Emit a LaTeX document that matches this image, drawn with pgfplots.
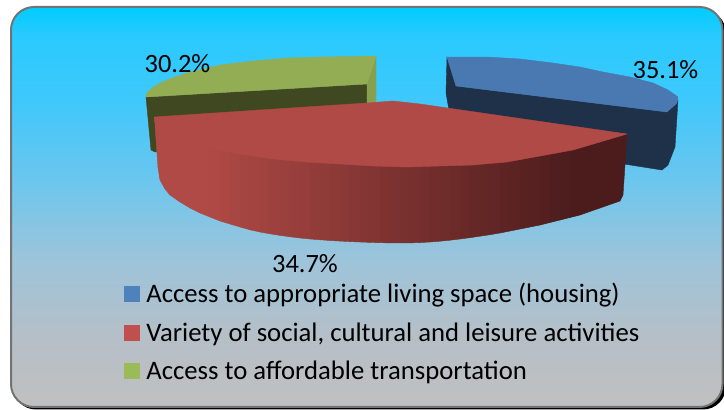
\documentclass[border=0pt]{standalone}
\usepackage{fontspec}
\setmainfont{Carlito}
\usepackage{pgfplots}
\pgfplotsset{compat=1.18}
\definecolor{bgA}{HTML}{C0C0C0}
\definecolor{bgB}{HTML}{B6BFC7}
\definecolor{bgC}{HTML}{9DC4DA}
\definecolor{bgD}{HTML}{6BC6EE}
\definecolor{bgE}{HTML}{3FC8FB}
\definecolor{bgF}{HTML}{29CAFF}
\definecolor{bgG}{HTML}{00CCFF}
\definecolor{blueTop}{HTML}{4A78B0}
\definecolor{blueWall}{HTML}{1E3149}
\definecolor{redTop}{HTML}{B04A46}
\definecolor{redDark}{HTML}{4C1C1C}
\definecolor{greenTop}{HTML}{93AD55}
\definecolor{greenWall}{HTML}{404821}
\definecolor{greenSide}{HTML}{87A04E}
\definecolor{swBlue}{HTML}{4F81BD}
\definecolor{swRed}{HTML}{C0504D}
\definecolor{swGreen}{HTML}{9BBB59}
\pgfdeclareverticalshading{panel}{100bp}{
  color(0bp)=(bgA); color(25bp)=(bgA); color(33.4bp)=(bgB); color(43.4bp)=(bgC);
  color(53.4bp)=(bgD); color(63.4bp)=(bgE); color(71.5bp)=(bgF); color(75bp)=(bgG); color(100bp)=(bgG)}
\newcommand{\strip}[7]{\addplot[forget plot,fill=redTop!#1!redDark,draw=redTop!#1!redDark,line width=0.4pt] coordinates {(#2,#3) (#5,#6) (#5,#7) (#2,#4)} -- cycle;}
\begin{document}
\begin{tikzpicture}
\path[use as bounding box] (0,0) rectangle (724pt,410pt);
\begin{scope}
\clip (0,0) rectangle (724pt,410pt);
\fill[black,rounded corners=23pt] (13pt,0.5pt) rectangle (726pt,400pt);
\path[shading=panel,draw=gray!90!black,line width=2pt,rounded corners=23pt] (11pt,3pt) rectangle (722.5pt,403pt);
\end{scope}
\begin{axis}[
  at={(0,0)},anchor=south west,
  scale only axis,width=724pt,height=410pt,
  xmin=0,xmax=724,ymin=0,ymax=410,y dir=reverse,
  hide axis,clip=false,
  legend style={at={(axis cs:124,283)},anchor=north west,draw=none,fill=none,inner sep=0pt,outer sep=0pt,
    font=\fontsize{26.7}{31}\selectfont,
    row sep=18.5pt,nodes={inner sep=0pt,outer sep=0pt}},
  legend cell align=left,
  legend image code/.code={\fill[#1] (0pt,-7.5pt) rectangle (15pt,7.5pt);\path (22pt,0pt);},
]
% blue slice
\addplot[forget plot,fill=blueWall,draw=blueWall] coordinates {(447,57) (446,93) (449,110) (627,134) (624,164) (662,170) (668,165) (675,147) (678,100) (667,112) (456,86)} -- cycle;
\addplot[forget plot,fill=blueTop,draw=blueTop] coordinates {(447,57) (487,57) (520,59) (553,63) (580,67) (603,72) (630,77) (653,83) (668,90) (678,97) (677,103) (667,112) (456,86)} -- cycle;
% green slice
\addplot[forget plot,fill=greenWall,draw=greenWall] coordinates {(146,97) (367,84) (367,110) (155,152) (151,150)} -- cycle;
\addplot[forget plot,fill=greenSide,draw=greenSide] coordinates {(376,56) (367,84) (367,104) (376,102)} -- cycle;
\addplot[forget plot,fill=greenTop,draw=greenTop] coordinates {(146,97) (146,94) (152,88) (160,83) (172,78) (187,73) (220,65) (253,61) (287,58) (320,57) (376,56) (367,84)} -- cycle;
% red slice wall, strip by strip (upper edge hidden beneath the top face)
\addplot[forget plot,fill=redTop,draw=redTop] coordinates {(155,125) (160,125) (160,180) (158,168)} -- cycle;
\strip{100}{160}{128}{180}{165}{128}{189}
\strip{100}{165}{130}{189}{170}{130}{195}
\strip{100}{170}{132}{195}{180}{136}{202}
\strip{100}{180}{136}{202}{190}{139}{208}
\strip{100}{190}{139}{208}{200}{142}{213}
\strip{100}{200}{142}{213}{210}{144}{217}
\strip{98}{210}{144}{217}{220}{146}{221}
\strip{95}{220}{146}{221}{230}{148}{224}
\strip{92}{230}{148}{224}{240}{149}{227}
\strip{89}{240}{149}{227}{250}{151}{229.8}
\strip{87}{250}{151}{229.8}{260}{152}{232}
\strip{84}{260}{152}{232}{270}{154}{233.8}
\strip{81}{270}{154}{233.8}{280}{155}{235.4}
\strip{78}{280}{155}{235.4}{290}{156}{236.8}
\strip{76}{290}{156}{236.8}{300}{157}{238}
\strip{73}{300}{157}{238}{310}{157}{239}
\strip{70}{310}{157}{239}{320}{158}{239.8}
\strip{67}{320}{158}{239.8}{330}{158}{240.5}
\strip{65}{330}{158}{240.5}{340}{159}{241.1}
\strip{62}{340}{159}{241.1}{350}{159}{241.6}
\strip{59}{350}{159}{241.6}{360}{160}{242}
\strip{56}{360}{160}{242}{370}{160}{242.4}
\strip{54}{370}{160}{242.4}{380}{161}{242.7}
\strip{51}{380}{161}{242.7}{390}{161}{242.9}
\strip{48}{390}{161}{242.9}{400}{162}{243}
\strip{45}{400}{162}{243}{410}{162}{242.9}
\strip{43}{410}{162}{242.9}{420}{162}{242.6}
\strip{40}{420}{162}{242.6}{430}{161}{242}
\strip{37}{430}{161}{242}{440}{161}{241.2}
\strip{34}{440}{161}{241.2}{450}{160}{240.2}
\strip{32}{450}{160}{240.2}{460}{160}{239}
\strip{29}{460}{160}{239}{470}{159}{237.7}
\strip{26}{470}{159}{237.7}{480}{159}{236.2}
\strip{23}{480}{159}{236.2}{490}{158}{234.7}
\strip{21}{490}{158}{234.7}{500}{158}{233}
\strip{18}{500}{158}{233}{510}{156}{231}
\strip{15}{510}{156}{231}{520}{155}{229}
\strip{12}{520}{155}{229}{530}{153}{227}
\strip{10}{530}{153}{227}{540}{151}{225}
\strip{7}{540}{151}{225}{550}{150}{222.5}
\strip{4}{550}{150}{222.5}{560}{148}{220}
\strip{2}{560}{148}{220}{570}{145}{217.5}
\strip{0}{570}{145}{217.5}{580}{143}{215}
\strip{0}{580}{143}{215}{600}{137}{208}
\strip{0}{600}{137}{208}{620}{132}{201}
\addplot[forget plot,fill=redDark,draw=redDark] coordinates {(620,136) (627,134) (623,195) (620,201)} -- cycle;
% red slice top
\addplot[forget plot,fill=redTop,draw=redTop] coordinates {(154,117) (260,110) (367,103) (393,101) (420,104) (627,134) (600,142) (573,150) (540,156) (507,162) (473,165) (440,166) (407,167) (373,166) (340,164) (306,162) (273,159) (240,154) (207,148) (180,140) (156,130)} -- cycle;
% legend
\addlegendimage{swBlue}
\addlegendentry{Access to appropriate living space (housing)}
\addlegendimage{swRed}
\addlegendentry{Variety of social, cultural and leisure activities}
\addlegendimage{swGreen}
\addlegendentry{Access to affordable transportation}
% data labels
\node[font=\fontsize{26.4}{30}\selectfont,inner sep=0pt] at (axis cs:177.5,64) {30.2\%};
\node[font=\fontsize{26.4}{30}\selectfont,inner sep=0pt] at (axis cs:665.5,70) {35.1\%};
\node[font=\fontsize{26.4}{30}\selectfont,inner sep=0pt] at (axis cs:305,264) {34.7\%};
\end{axis}
\end{tikzpicture}
\end{document}
